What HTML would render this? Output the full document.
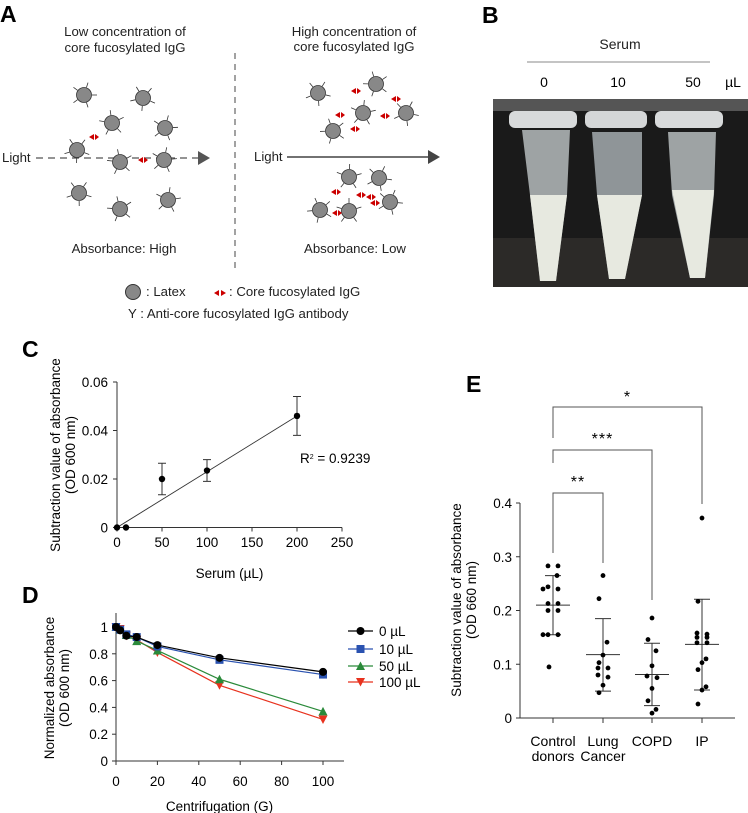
<!DOCTYPE html>
<html><head><meta charset="utf-8"><style>
body{margin:0;background:#fff;}
svg{display:block;font-family:"Liberation Sans",Arial,sans-serif;}
</style></head><body>
<svg id="fig" width="748" height="813" viewBox="0 0 748 813">
<text x="0" y="22" font-size="23" font-weight="bold">A</text>
<text x="482" y="23" font-size="23" font-weight="bold">B</text>
<text x="22" y="357" font-size="23" font-weight="bold">C</text>
<text x="22" y="603" font-size="23" font-weight="bold">D</text>
<text x="466" y="392" font-size="23" font-weight="bold">E</text>

<g id="panelA" font-size="13.2" fill="#222">
<text x="125" y="36" text-anchor="middle">Low concentration of</text>
<text x="125" y="52" text-anchor="middle">core fucosylated IgG</text>
<text x="354" y="36" text-anchor="middle">High concentration of</text>
<text x="354" y="51" text-anchor="middle">core fucosylated IgG</text>
<line x1="235" y1="53" x2="235" y2="268" stroke="#444" stroke-dasharray="6,5"/>
<text x="2" y="162">Light</text>
<line x1="36" y1="158" x2="198" y2="158" stroke="#555" stroke-width="1.2" stroke-dasharray="7,5"/>
<polygon points="198,151 210,158 198,165" fill="#555"/>
<text x="254" y="161">Light</text>
<line x1="287" y1="157" x2="430" y2="157" stroke="#444" stroke-width="1.4"/>
<polygon points="428,150 440,157 428,164" fill="#444"/>
<text x="124" y="253" text-anchor="middle">Absorbance: High</text>
<text x="355" y="253" text-anchor="middle">Absorbance: Low</text>
<circle cx="133" cy="292" r="7.5" fill="#888" stroke="#333"/>
<text x="146" y="296">: Latex</text>
<polygon points="214,293 219,290 219,296" fill="#c00"/>
<polygon points="226,293 221,290 221,296" fill="#c00"/>
<text x="229" y="296">: Core fucosylated IgG</text>
<text x="128" y="318">Y : Anti-core fucosylated IgG antibody</text>
<g id="particles"></g>
</g>

<g>
<text x="620" y="49" font-size="14" text-anchor="middle" fill="#222">Serum</text>
<line x1="527" y1="62" x2="710" y2="62" stroke="#888" stroke-width="1"/>
<text x="544" y="87" font-size="14" text-anchor="middle">0</text>
<text x="618" y="87" font-size="14" text-anchor="middle">10</text>
<text x="693" y="87" font-size="14" text-anchor="middle">50</text>
<text x="733" y="87" font-size="14" text-anchor="middle">µL</text>
<rect x="493" y="99" width="255" height="188" fill="#1a1a1a"/>
<rect x="493" y="99" width="255" height="12" fill="#555"/>
<rect x="493" y="238" width="255" height="49" fill="#2c2a28"/>
<g fill="#e7e9e0">
<path d="M522,130 L570,130 L567,195 L556,281 L540,281 L530,195 Z" fill="#9ea3a4"/>
<path d="M530,195 L567,195 L556,281 L540,281 Z"/>
<path d="M592,132 L642,132 L642,195 L625,279 L609,279 L597,195 Z" fill="#8f9598"/>
<path d="M597,195 L642,195 L625,279 L609,279 Z"/>
<path d="M668,132 L716,132 L714,195 L705,278 L690,278 L672,195 Z" fill="#9ea3a4"/>
<path d="M672,190 L714,190 L705,278 L690,278 Z"/>
</g>
<rect x="509" y="111" width="68" height="17" rx="6" fill="#d8dadb"/>
<rect x="585" y="111" width="62" height="17" rx="6" fill="#d4d6d7"/>
<rect x="655" y="111" width="68" height="17" rx="6" fill="#d8dadb"/>
</g>

<g id="chartC"></g>
<g id="chartD"></g>
<g id="chartE"></g>
</svg>
<script>
const cSerum = [0, 10, 50, 100, 200];
const cValues = [0, 0, 0.02, 0.0235, 0.046];
const cErrors = [0, 0, 0.0065, 0.0045, 0.008];
const cYTicks = [0, 0.02, 0.04, 0.06];
const cXTicks = [0, 50, 100, 150, 200, 250];
const cFitEnd = [200, 0.046];
const dForce = [0, 2, 5, 10, 20, 50, 100];
const dSeries0 = [1, 0.975, 0.935, 0.925, 0.865, 0.77, 0.665];
const dSeries10 = [1, 0.98, 0.945, 0.925, 0.855, 0.755, 0.645];
const dSeries50 = [1, 0.98, 0.94, 0.895, 0.825, 0.61, 0.37];
const dSeries100 = [1, 0.985, 0.935, 0.905, 0.81, 0.565, 0.31];
const dLabels = ["0 µL", "10 µL", "50 µL", "100 µL"];
const dYTicks = [0, 0.2, 0.4, 0.6, 0.8, 1];
const dXTicks = [0, 20, 40, 60, 80, 100];
const eGroups = ["Control|donors", "Lung|Cancer", "COPD", "IP"];
const eControl = [0.283,0.283,0.265,0.244,0.24,0.24,0.213,0.213,0.2,0.2,0.155,0.155,0.155,0.095];
const eLung = [0.265,0.222,0.141,0.117,0.103,0.093,0.093,0.08,0.076,0.061,0.047];
const eCopd = [0.186,0.146,0.125,0.097,0.078,0.075,0.055,0.032,0.016,0.009];
const eIp = [0.372,0.217,0.158,0.156,0.15,0.15,0.14,0.14,0.11,0.103,0.09,0.058,0.052,0.026];
const eMeans = [0.21, 0.118, 0.081, 0.137];
const eUpper = [0.265, 0.185, 0.139, 0.221];
const eLower = [0.155, 0.05, 0.023, 0.052];
const eYTicks = [0, 0.1, 0.2, 0.3, 0.4];
const eSig = ["**", "***", "*"];

const NS = "http://www.w3.org/2000/svg";
const FS = 13.5;
function mk(parent, tag, attrs, text) {
  const e = document.createElementNS(NS, tag);
  for (const k in attrs) e.setAttribute(k, attrs[k]);
  if (text !== undefined) e.textContent = text;
  parent.appendChild(e);
  return e;
}

(function(){
  const g = document.getElementById('particles');
  const pts = [[84,95],[143,98],[112,123],[165,128],[77,150],[120,162],[164,160],[79,193],[120,209],[168,200],
               [318,93],[376,84],[363,113],[406,113],[333,131],[349,177],[379,178],[320,210],[349,211],[390,202]];
  pts.forEach((p,i)=>{
    for (let k=0;k<5;k++){
      const a = (k*72 + i*23)*Math.PI/180;
      const x1=p[0]+Math.cos(a)*8, y1=p[1]+Math.sin(a)*8, x2=p[0]+Math.cos(a)*13, y2=p[1]+Math.sin(a)*13;
      mk(g,'line',{x1,y1,x2,y2,stroke:'#333','stroke-width':0.8});
    }
    const c = mk(g,'circle',{cx:p[0],cy:p[1],r:7.5,fill:'#888',stroke:'#333','stroke-width':0.8});
    
    
  });
  const reds = [[94,137],[143,160],[356,91],[396,99],[340,115],[385,116],[355,129],[336,192],[361,195],[375,203],[337,213],[371,197]];
  reds.forEach(r=>{
    const t = mk(g,'polygon',{points:`${r[0]-5},${r[1]} ${r[0]},${r[1]-3} ${r[0]},${r[1]+3}`,fill:'#c00'});
    
    
    mk(g,'polygon',{points:`${r[0]+5},${r[1]} ${r[0]+1},${r[1]-3} ${r[0]+1},${r[1]+3}`,fill:'#c00'});
  });
})();

(function(){
  const g = document.getElementById('chartC');
  const x = v => 117 + v*0.9;
  const y = v => 527.5 - v/0.02*48.5;
  const ax = mk(g,'path',{d:`M117,${y(0.06)} V527.5 H${x(250)}`,fill:'none',stroke:'#333'});
   
  cYTicks.forEach(t=>{
    mk(g,'line',{x1:113,x2:117,y1:y(t),y2:y(t),stroke:'#333'});
    const l = mk(g,'text',{x:108,y:y(t)+5,'font-size':FS,'text-anchor':'end'},String(t));
     
  });
  cXTicks.forEach(t=>{
    mk(g,'line',{x1:x(t),x2:x(t),y1:527.5,y2:531.5,stroke:'#333'});
    const l = mk(g,'text',{x:x(t),y:547,'font-size':FS,'text-anchor':'middle'},String(t));
     
  });
  const xt = mk(g,'text',{x:x(125),y:578,'font-size':FS,'text-anchor':'middle'},'Serum (µL)');
   
  const yt = mk(g,'text',{transform:'translate(60,455) rotate(-90)','font-size':FS,'text-anchor':'middle'});
   
  mk(yt,'tspan',{x:0,dy:0},'Subtraction value of absorbance');
  mk(yt,'tspan',{x:0,dy:15},'(OD 600 nm)');
  const fit = mk(g,'line',{x1:x(0),y1:y(0),x2:x(cFitEnd[0]),y2:y(cFitEnd[1]),stroke:'#333','stroke-width':0.9});
   
  const r2 = mk(g,'text',{x:300,y:463,'font-size':FS},'R');
   
  mk(r2,'tspan',{dy:-4,'font-size':7},'2');
  mk(r2,'tspan',{dy:4},' = 0.9239');
  cSerum.forEach((s,i)=>{
    if (cErrors[i]>0){
      const y1=y(cValues[i]+cErrors[i]), y2=y(cValues[i]-cErrors[i]);
      mk(g,'path',{d:`M${x(s)},${y1} V${y2} M${x(s)-4},${y1} h8 M${x(s)-4},${y2} h8`,stroke:'#333',fill:'none'});
    }
    const p = mk(g,'circle',{cx:x(s),cy:y(cValues[i]),r:3.2,fill:'#000'});
     
  });
})();

(function(){
  const g = document.getElementById('chartD');
  const x = v => 116 + v*2.07;
  const y = v => 761 - v*134;
  const ax = mk(g,'path',{d:`M116,613 V761 H344`,fill:'none',stroke:'#333'});
   
  dYTicks.forEach(t=>{
    mk(g,'line',{x1:112,x2:116,y1:y(t),y2:y(t),stroke:'#333'});
    const l = mk(g,'text',{x:108,y:y(t)+5,'font-size':FS,'text-anchor':'end'},String(t));
     
  });
  dXTicks.forEach(t=>{
    mk(g,'line',{x1:x(t),x2:x(t),y1:761,y2:765,stroke:'#333'});
    const l = mk(g,'text',{x:x(t),y:786,'font-size':FS,'text-anchor':'middle'},String(t));
     
  });
  const xt = mk(g,'text',{x:x(50),y:811,'font-size':FS,'text-anchor':'middle'},'Centrifugation (G)');
   
  const yt = mk(g,'text',{transform:'translate(54,688) rotate(-90)','font-size':FS,'text-anchor':'middle'});
   
  mk(yt,'tspan',{x:0,dy:0},'Normalized absorbance');
  mk(yt,'tspan',{x:0,dy:15},'(OD 600 nm)');
  const series = [dSeries100, dSeries50, dSeries10, dSeries0];
  const colors = ['#e8321e','#2a8a3a','#2a52b0','#000'];
  const markers = ['tri-down','tri-up','square','circle'];
  function marker(cx,cy,type,col){
    if(type==='circle') return mk(g,'circle',{cx,cy,r:4,fill:col});
    if(type==='square') return mk(g,'rect',{x:cx-4,y:cy-4,width:8,height:8,fill:col});
    if(type==='tri-up') return mk(g,'polygon',{points:`${cx-4.5},${cy+4} ${cx+4.5},${cy+4} ${cx},${cy-4.5}`,fill:col});
    return mk(g,'polygon',{points:`${cx-4.5},${cy-4} ${cx+4.5},${cy-4} ${cx},${cy+4.5}`,fill:col});
  }
  series.forEach((s,si)=>{
    const d = s.map((v,i)=>(i?'L':'M')+x(dForce[i])+','+y(v)).join(' ');
    const ln = mk(g,'path',{d,fill:'none',stroke:colors[si],'stroke-width':1.2});
     
    s.forEach((v,i)=>{
      const m = marker(x(dForce[i]),y(v),markers[si],colors[si]);
       
    });
  });
  const legY=[631,649,666,682];
  dLabels.forEach((lab,i)=>{
    const si=3-i;
    mk(g,'line',{x1:348,x2:373,y1:legY[i],y2:legY[i],stroke:colors[si],'stroke-width':1.2});
    const m = marker(360.5,legY[i],markers[si],colors[si]);
     
    const t = mk(g,'text',{x:379,y:legY[i]+5,'font-size':FS},lab);
     
  });
})();

(function(){
  const g = document.getElementById('chartE');
  const gx = [553, 603, 652, 702];
  const y = v => 718 - v*537.5;
  const ax = mk(g,'path',{d:`M520,${y(0.4)} V718 H735`,fill:'none',stroke:'#333'});
   
  eYTicks.forEach(t=>{
    mk(g,'line',{x1:516,x2:520,y1:y(t),y2:y(t),stroke:'#333'});
    const l = mk(g,'text',{x:512,y:y(t)+5,'font-size':FS,'text-anchor':'end'},String(t));
     
  });
  eGroups.forEach((gname,i)=>{
    mk(g,'line',{x1:gx[i],x2:gx[i],y1:718,y2:723,stroke:'#333'});
    const parts = gname.split('|');
    parts.forEach((p,j)=>{
      const t = mk(g,'text',{x:gx[i],y:746+j*15,'font-size':14,'text-anchor':'middle'},p);
       
    });
  });
  const yt = mk(g,'text',{transform:'translate(461,600) rotate(-90)','font-size':FS,'text-anchor':'middle'});
   
  mk(yt,'tspan',{x:0,dy:0},'Subtraction value of absorbance');
  mk(yt,'tspan',{x:0,dy:15},'(OD 660 nm)');
  const groups = [eControl, eLung, eCopd, eIp];
  groups.forEach((vals,i)=>{
    mk(g,'path',{d:`M${gx[i]},${y(eUpper[i])} V${y(eLower[i])} M${gx[i]-8},${y(eUpper[i])} h16 M${gx[i]-8},${y(eLower[i])} h16 M${gx[i]-17},${y(eMeans[i])} h34`,stroke:'#333',fill:'none','stroke-width':1});
    const used = {};
    vals.forEach((v,k)=>{
      const key = Math.round(v*100);
      const n = used[key] = (used[key]||0)+1;
      const off = (vals.filter(w=>Math.round(w*100)===key).length>1) ? (n%2? -5 : 5)*(1+Math.floor((n-1)/2)) : (k%3===1?-4:k%3===2?4:0);
      const c = mk(g,'circle',{cx:gx[i]+off,cy:y(v),r:2.4,fill:'#000'});
       
    });
  });
  const brackets = [[1,493,553,563,478],[2,450,463,600,435],[3,407,438,504,393]];
  brackets.forEach((b,i)=>{
    const [gi,top,leftEnd,rightEnd,sy] = b;
    const p = mk(g,'path',{d:`M${gx[0]},${leftEnd} V${top} H${gx[gi]} V${rightEnd}`,fill:'none',stroke:'#555'});
     
    const t = mk(g,'text',{x:(gx[0]+gx[gi])/2,y:sy+9,'font-size':16,'text-anchor':'middle','letter-spacing':'1'},eSig[i]);
     
  });
})();
</script>
</body></html>
